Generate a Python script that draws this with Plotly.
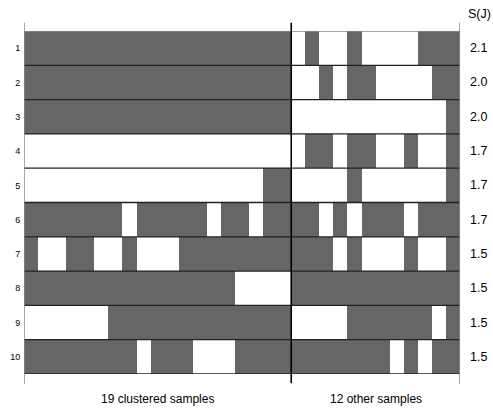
import plotly.graph_objects as go

rows = [1, 2, 3, 4, 5, 6, 7, 8, 9, 10]
sj = ["2.1", "2.0", "2.0", "1.7", "1.7", "1.7", "1.5", "1.5", "1.5", "1.5"]
n_clustered = 19
n_other = 12
group_labels = ["19 clustered samples", "12 other samples"]

# 1 = gray (present), 0 = white; 19 clustered + 12 other samples
clustered = [
    "1111111111111111111",
    "1111111111111111111",
    "1111111111111111111",
    "0000000000000000000",
    "0000000000000000011",
    "1111111011111011011",
    "1001100100011111111",
    "1111111111111110000",
    "0000001111111111111",
    "1111111101110001111",
]
other = [
    "010010000111",
    "001011000011",
    "000000000001",
    "011011001001",
    "000010000001",
    "110101110111",
    "111010001001",
    "111111111111",
    "000011111101",
    "111111101011",
]

z = [[int(c) for c in a + b] for a, b in zip(clustered, other)]
ncols = n_clustered + n_other
xs = list(range(ncols))

fig = go.Figure(go.Heatmap(
    z=z, x=xs, y=rows,
    colorscale=[[0, "#ffffff"], [1, "#666666"]],
    zmin=0, zmax=1, showscale=False, hoverinfo="skip",
))

font = "Liberation Sans, Arial, sans-serif"
x_left = -0.5
x_right = ncols - 0.5
x_div = n_clustered - 0.5
shapes = []
# row boundaries
for k in range(len(rows) + 1):
    yb = rows[0] - 0.5 + k
    shapes.append(dict(type="line", xref="x", yref="y", x0=x_left, x1=x_right,
                       y0=yb, y1=yb,
                       line=dict(color="#888888" if k == 0 else "#222222", width=1.3)))
# vertical lines with small tick extensions
shapes.append(dict(type="line", xref="x", yref="paper", x0=x_left, x1=x_left,
                   y0=-0.03, y1=1.024, line=dict(color="#888888", width=1.5)))
shapes.append(dict(type="line", xref="x", yref="paper", x0=x_right, x1=x_right,
                   y0=-0.03, y1=1.024, line=dict(color="#888888", width=1.5)))
shapes.append(dict(type="line", xref="x", yref="paper", x0=x_div, x1=x_div,
                   y0=-0.027, y1=1.024, line=dict(color="#000000", width=1.6)))

annotations = []
for r, s in zip(rows, sj):
    annotations.append(dict(x=1.0, xref="paper", y=r, yref="y", text=s,
                            showarrow=False, xanchor="left", xshift=8,
                            font=dict(family=font, size=12.5, color="#000")))
annotations.append(dict(x=1.0, xref="paper", y=1.0, yref="paper", text="S(J)",
                        showarrow=False, xanchor="left", yanchor="bottom",
                        xshift=6, yshift=8,
                        font=dict(family=font, size=12.5, color="#000")))
centers = [(n_clustered - 1) / 2, n_clustered + (n_other - 1) / 2]
for cx, lab in zip(centers, group_labels):
    annotations.append(dict(x=cx, xref="x", y=0, yref="paper", text=lab,
                            showarrow=False, yanchor="top", yshift=-16,
                            font=dict(family=font, size=12, color="#000")))

fig.update_layout(
    width=493, height=411,
    margin=dict(l=23.5, r=33, t=30.7, b=36.7, autoexpand=False),
    plot_bgcolor="white", paper_bgcolor="white",
    xaxis=dict(range=[x_left, x_right], showticklabels=False, showgrid=False,
               zeroline=False, ticks="", automargin=False),
    yaxis=dict(range=[rows[-1] + 0.5, rows[0] - 0.5], tickvals=rows,
               ticktext=[str(r) for r in rows], showgrid=False, zeroline=False,
               ticks="outside", ticklen=1, tickcolor="rgba(0,0,0,0)",
               automargin=False,
               tickfont=dict(family=font, size=9, color="#000")),
    shapes=shapes, annotations=annotations, showlegend=False,
)

fig.write_html("out.html")
